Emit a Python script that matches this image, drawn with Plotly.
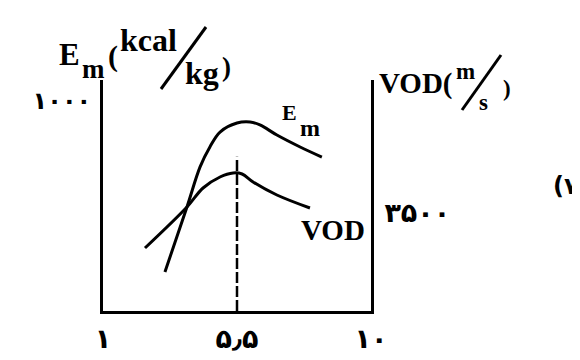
import plotly.graph_objects as go

# values
em_x = [3.08, 3.82, 4.26, 4.59, 4.93, 5.50, 5.94, 6.27, 6.84, 7.62, 8.35]
em_y = [186, 495, 686, 781, 852, 895, 900, 886, 838, 781, 733]

vod_x = [2.41, 3.82, 4.36, 4.93, 5.37, 5.67, 6.04, 6.84, 7.95]
vod_y = [2250, 3714, 4393, 4786, 4929, 4893, 4607, 4143, 3679]

peak_x = [5.5, 5.5]
peak_y = [0, 735]

x_ticks = [1, 5.5, 10]
x_ticktext = ["۱", "۵٫۵", "۱۰"]
em_ticks = [1000]
em_ticktext = ["۱۰۰۰"]
vod_ticks = [3500]
vod_ticktext = ["۳۵۰۰"]

L, T, W, H = 95, 72, 268, 231   # plot box inside the figure (page adds an 8px body margin)


def px(sx):
    return (sx - 8 - L) / W


def py(sy):
    return (T + H - (sy - 8)) / H


serif = dict(family="Liberation Serif", color="black")
digits = dict(family="DejaVu Sans", color="black", weight="bold")

fig = go.Figure()
fig.add_trace(go.Scatter(x=em_x, y=em_y, mode="lines", line=dict(color="black", width=3, shape="spline")))
fig.add_trace(go.Scatter(x=vod_x, y=vod_y, mode="lines", yaxis="y2",
                         line=dict(color="black", width=3, shape="spline")))
fig.add_trace(go.Scatter(x=peak_x, y=peak_y, mode="lines",
                         line=dict(color="black", width=2.5, dash="11px,3px")))

fig.update_layout(
    width=580, height=360,
    margin=dict(l=L, r=580 - L - W, t=T, b=360 - T - H, autoexpand=False),
    paper_bgcolor="white", plot_bgcolor="white",
    showlegend=False,
    xaxis=dict(range=[1, 10], showgrid=False, zeroline=False, showline=True, automargin=False,
               linecolor="black", linewidth=3, ticks="", tickvals=x_ticks,
               ticktext=x_ticktext, tickfont=dict(digits, size=27), ticklabelstandoff=2),
    yaxis=dict(range=[0, 1100], showgrid=False, zeroline=False, showline=True, automargin=False,
               linecolor="black", linewidth=3, ticks="", tickvals=em_ticks,
               ticktext=em_ticktext, tickfont=dict(digits, size=24), ticklabelstandoff=4),
    yaxis2=dict(range=[0, 8250], overlaying="y", side="right", showgrid=False, automargin=False,
                zeroline=False, showline=True, linecolor="black", linewidth=3,
                ticks="", tickvals=vod_ticks, ticktext=vod_ticktext,
                tickfont=dict(digits, size=27), ticklabelstandoff=5),
)


def label(text, sx, sy, size, font=serif):
    fig.add_annotation(xref="paper", yref="paper", x=px(sx), y=py(sy), xanchor="left",
                       yanchor="middle", text=text, showarrow=False, borderpad=0,
                       borderwidth=0, font=dict(font, size=size))


def stroke(x0, y0, x1, y1):
    fig.add_shape(type="line", xref="paper", yref="paper", x0=px(x0), y0=py(y0),
                  x1=px(x1), y1=py(y1), line=dict(color="black", width=3))


# left axis title  E_m (kcal / kg)
label("<b>E</b>", 59, 54, 31)
label("<b>m</b>", 82, 69, 27)
label("<b>(</b>", 108, 56, 30)
label("<b>kcal</b>", 120, 40, 32)
stroke(161, 89, 206, 27)
label("<b>kg</b>", 185, 73, 32)
label("<b>)</b>", 222, 67, 27)

# right axis title  VOD (m / s)
label("<b>VOD(</b>", 379, 83, 29)
label("<b>m</b>", 456, 71, 23)
stroke(462, 110, 501, 55)
label("<b>s</b>", 479, 103, 23)
label("<b>)</b>", 503, 88, 23)

# curve labels
label("<b>E</b>", 282, 112, 22)
label("<b>m</b>", 300, 128, 24)
label("<b>VOD</b>", 301, 230, 29)

# figure number, cut by the right edge
label("<b>(۷)</b>", 553, 186, 24, digits)

fig.write_html("out.html")
